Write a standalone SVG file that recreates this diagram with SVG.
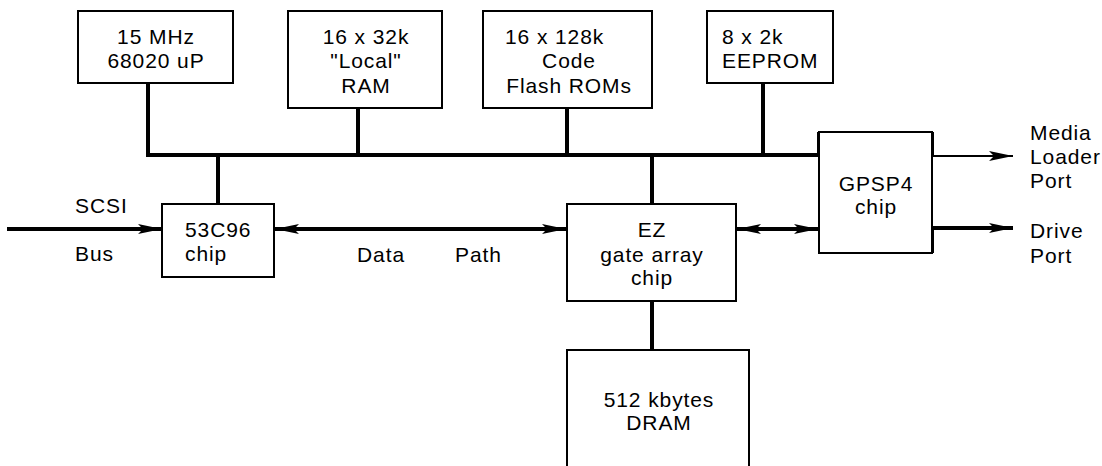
<svg xmlns="http://www.w3.org/2000/svg" width="1102" height="466" viewBox="0 0 1102 466">
<style>
text{font-family:"Liberation Sans",Arial,sans-serif;font-size:21px;letter-spacing:0.9px;fill:#000}
.m{text-anchor:middle}
.box{fill:#fff;stroke:#000;stroke-width:2}
.thick{stroke:#000;stroke-width:4;fill:none}
.thin{stroke:#000;stroke-width:2;fill:none}
</style>
<defs>
<marker id="ah" viewBox="0 0 24 10" refX="24" refY="5" markerWidth="24" markerHeight="10" markerUnits="userSpaceOnUse" orient="auto-start-reverse">
<path d="M0,0 L24,5 L0,10 L5,5 Z" fill="#000"/>
</marker>
</defs>
<rect width="1102" height="466" fill="#fff"/>
<g id="connectors">
<path class="thick" d="M148,83 V155 H819"/>
<path class="thick" d="M358,108 V155"/>
<path class="thick" d="M567,108 V155"/>
<path class="thick" d="M763,83 V155"/>
<path class="thick" d="M218,155 V204"/>
<path class="thick" d="M652,155 V204"/>
<path class="thick" d="M652,301 V350"/>
<path class="thick" d="M819,155 V132"/>
<path class="thick" d="M932,132 V156"/>
<path class="thick" d="M932,228 V253"/>
<line class="thick" x1="7" y1="229" x2="162" y2="229" marker-end="url(#ah)"/>
<line class="thick" x1="275" y1="229" x2="566" y2="229" marker-start="url(#ah)" marker-end="url(#ah)"/>
<line class="thick" x1="737" y1="229" x2="818" y2="229" marker-start="url(#ah)" marker-end="url(#ah)"/>
<line class="thin" x1="932" y1="156" x2="1013" y2="156" marker-end="url(#ah)"/>
<line class="thick" x1="932" y1="228" x2="1013" y2="228" marker-end="url(#ah)"/>
</g>
<g id="cpu">
<rect class="box" x="78" y="11" width="155" height="72"/>
<text class="m" x="156" y="44">15 MHz</text>
<text class="m" x="156" y="68">68020 uP</text>
</g>
<g id="ram">
<rect class="box" x="288" y="11" width="154" height="97"/>
<text class="m" x="366" y="44">16 x 32k</text>
<text class="m" x="366" y="68">"Local"</text>
<text class="m" x="366" y="93">RAM</text>
</g>
<g id="rom">
<rect class="box" x="483" y="11" width="169" height="97"/>
<text x="505" y="44">16 x 128k</text>
<text class="m" x="569" y="68">Code</text>
<text class="m" x="569" y="93">Flash ROMs</text>
</g>
<g id="eeprom">
<rect class="box" x="707" y="11" width="126" height="72"/>
<text x="722" y="44">8 x 2k</text>
<text x="722" y="68">EEPROM</text>
</g>
<g id="scsi-chip">
<rect class="box" x="162" y="204" width="112" height="73"/>
<text x="185" y="237">53C96</text>
<text x="185" y="261">chip</text>
</g>
<g id="ez">
<rect class="box" x="567" y="204" width="169" height="97"/>
<text class="m" x="652" y="237">EZ</text>
<text class="m" x="652" y="262">gate array</text>
<text class="m" x="652" y="285">chip</text>
</g>
<g id="gpsp4">
<rect class="box" x="819" y="132" width="113" height="121"/>
<text class="m" x="876" y="191">GPSP4</text>
<text class="m" x="876" y="214">chip</text>
</g>
<g id="dram">
<rect class="box" x="567" y="350" width="182" height="130"/>
<text class="m" x="659" y="407">512 kbytes</text>
<text class="m" x="659" y="430">DRAM</text>
</g>
<g id="labels">
<text x="75" y="213">SCSI</text>
<text x="75" y="261">Bus</text>
<text x="357" y="262">Data</text>
<text x="455" y="262">Path</text>
<text x="1030" y="140">Media</text>
<text x="1030" y="164">Loader</text>
<text x="1030" y="188">Port</text>
<text x="1030" y="238">Drive</text>
<text x="1030" y="263">Port</text>
</g>
</svg>
